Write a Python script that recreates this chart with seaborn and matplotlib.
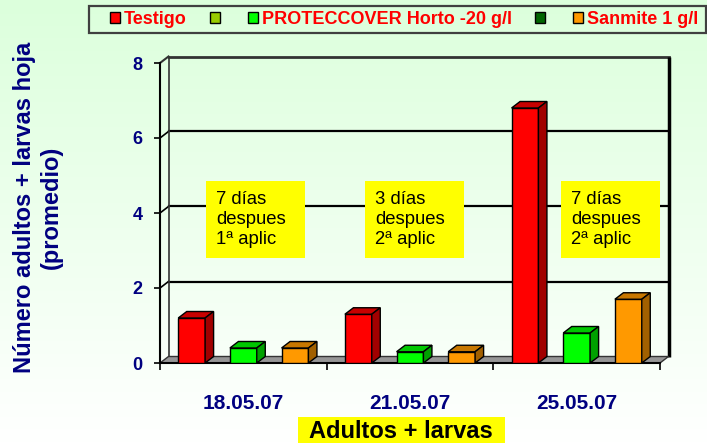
import numpy as np
import pandas as pd
import matplotlib
matplotlib.use('Agg')
import matplotlib.pyplot as plt
from matplotlib.patches import Polygon, Rectangle, Patch
from matplotlib.colors import LinearSegmentedColormap, to_rgb
import seaborn as sns

plt.rcParams['font.family'] = ['Liberation Sans', 'DejaVu Sans']

# datos
fechas = ['18.05.07', '21.05.07', '25.05.07']
tratamientos = ['Testigo', 'PROTECCOVER Horto -20 g/l', 'Sanmite 1 g/l']
testigo = [1.2, 1.3, 6.8]
proteccover = [0.4, 0.3, 0.8]
sanmite = [0.4, 0.3, 1.7]
notas = ['7 días\ndespues\n1ª aplic', '3 días\ndespues\n2ª aplic', '7 días\ndespues\n2ª aplic']

colores = {'Testigo': '#ff0000', 'PROTECCOVER Horto -20 g/l': '#00ff00', 'Sanmite 1 g/l': '#ff9900'}
# la leyenda original tiene 5 entradas, dos sin texto
leyenda_colores = ['#ff0000', '#99cc00', '#00ff00', '#006600', '#ff9900']
leyenda_textos = ['Testigo', '', 'PROTECCOVER Horto -20 g/l', '', 'Sanmite 1 g/l']

df = pd.DataFrame({
    'fecha': fechas * 3,
    'tratamiento': np.repeat(tratamientos, len(fechas)),
    'valor': testigo + proteccover + sanmite,
})

W, H = 707, 443
fig = plt.figure(figsize=(W / 100, H / 100), dpi=100)

# fondo degradado verde claro -> blanco
bg = fig.add_axes([0, 0, 1, 1], zorder=-1)
grad = np.linspace(0, 1, 256).reshape(-1, 1)
bg.imshow(grad, aspect='auto', extent=[0, 1, 0, 1],
          cmap=LinearSegmentedColormap.from_list('bg', ['#dcffdc', '#ffffff']))
bg.axis('off')

ax = fig.add_axes([160 / W, 1 - 363 / H, 500 / W, 300 / H])
ax.set_facecolor('none')

sns.barplot(data=df, x='fecha', y='valor', hue='tratamiento', hue_order=tratamientos,
            palette=colores, width=0.93, gap=0.48, saturation=1, edgecolor='black',
            linewidth=1, legend=False, ax=ax, zorder=4)
ax.set_xlim(-0.5, 2.5)
ax.set_ylim(0, 8)

# profundidad del efecto 3D (en unidades de datos)
dx = 8.5 / 500 * 3
dy = 6.5 / 300 * 8

for bar in list(ax.patches):
    x0, w, h = bar.get_x(), bar.get_width(), bar.get_height()
    c = np.array(to_rgb(bar.get_facecolor()))
    ax.add_patch(Polygon([(x0, h), (x0 + w, h), (x0 + w + dx, h + dy), (x0 + dx, h + dy)],
                         fc=c * 0.78, ec='black', lw=1, zorder=4))
    ax.add_patch(Polygon([(x0 + w, 0), (x0 + w + dx, dy), (x0 + w + dx, h + dy), (x0 + w, h)],
                         fc=c * 0.63, ec='black', lw=1, zorder=4))

# pared del fondo y suelo
xa, xb = -0.5, 2.5
for v in [2, 4, 6]:
    ax.plot([xa + dx, xb + dx], [v + dy, v + dy], color='black', lw=1.6, zorder=1, clip_on=False)
    ax.plot([xa, xa + dx], [v, v + dy], color='black', lw=1.2, zorder=1, clip_on=False)
ax.plot([xa + dx, xb + dx], [8 + dy, 8 + dy], color='#333333', lw=2, zorder=1, clip_on=False)
ax.plot([xa, xa + dx], [8, 8 + dy], color='#333333', lw=1.5, zorder=1, clip_on=False)
ax.plot([xa + dx, xa + dx], [dy, 8 + dy], color='#333333', lw=1.2, zorder=1, clip_on=False)
ax.plot([xb + dx, xb + dx], [dy, 8 + dy], color='black', lw=2.5, zorder=1, clip_on=False,
        solid_capstyle='butt')
ax.add_patch(Polygon([(xa, 0), (xb, 0), (xb + dx, dy), (xa + dx, dy)],
                     fc='#969696', ec='#333333', lw=1, zorder=2, clip_on=False))

for s in ['top', 'right']:
    ax.spines[s].set_visible(False)
for s in ['left', 'bottom']:
    ax.spines[s].set_linewidth(1.5)
    ax.spines[s].set_color('black')

ax.set_yticks([0, 2, 4, 6, 8])
ax.tick_params(axis='y', length=4.5, width=1.2, pad=8, labelsize=13, labelcolor='#000080')
ax.set_xticks([0, 1, 2], fechas)
ax.set_xticks([-0.5, 0.5, 1.5, 2.5], minor=True)
ax.tick_params(axis='x', which='major', length=0, pad=22, labelsize=15, labelcolor='#000080')
ax.tick_params(axis='x', which='minor', length=5, width=1.2)
for lab in ax.get_xticklabels() + ax.get_yticklabels():
    lab.set_fontweight('bold')
ax.set_xlabel('')
ax.set_ylabel('')

# cuadros amarillos con notas
nota_x = [-0.224, 0.73, 1.906]
for xi, txt in zip(nota_x, notas):
    ax.add_patch(Rectangle((xi, 2.8), 0.594, 2.05, fc='#ffff00', ec='none', zorder=3))
    ax.text(xi + 0.06, 3.83, txt, fontsize=13.3, ha='left', va='center', linespacing=1.25, zorder=5)

# leyenda
fig.add_artist(Rectangle((89 / W, 1 - 33 / H), (706 - 89) / W, 27 / H, transform=fig.transFigure,
                         fc='none', ec='#404040', lw=1.6))
handles = [Patch(fc=c, ec='black', lw=1) for c in leyenda_colores]
fig.legend(handles, leyenda_textos, loc='center left', bbox_to_anchor=(110 / W, 1 - 19.5 / H),
           ncol=5, frameon=False, prop={'size': 13, 'weight': 'bold'}, labelcolor='red',
           handlelength=0.55, handleheight=0.55, handletextpad=0.22, columnspacing=1.31,
           borderpad=0, borderaxespad=0)

# titulos de ejes
fig.text(38 / W, 1 - 207 / H, 'Número adultos + larvas hoja\n(promedio)', rotation=90,
         ha='center', va='center', fontsize=17, fontweight='bold', color='#000080',
         multialignment='center', linespacing=1.2)
fig.add_artist(Rectangle((298 / W, 0), (505 - 298) / W, (443 - 417) / H, transform=fig.transFigure,
                         fc='#ffff00', ec='none'))
fig.text(401 / W, 1 - 431 / H, 'Adultos + larvas', ha='center', va='center',
         fontsize=17, fontweight='bold', color='black')

fig.savefig('out.png', dpi=100)
